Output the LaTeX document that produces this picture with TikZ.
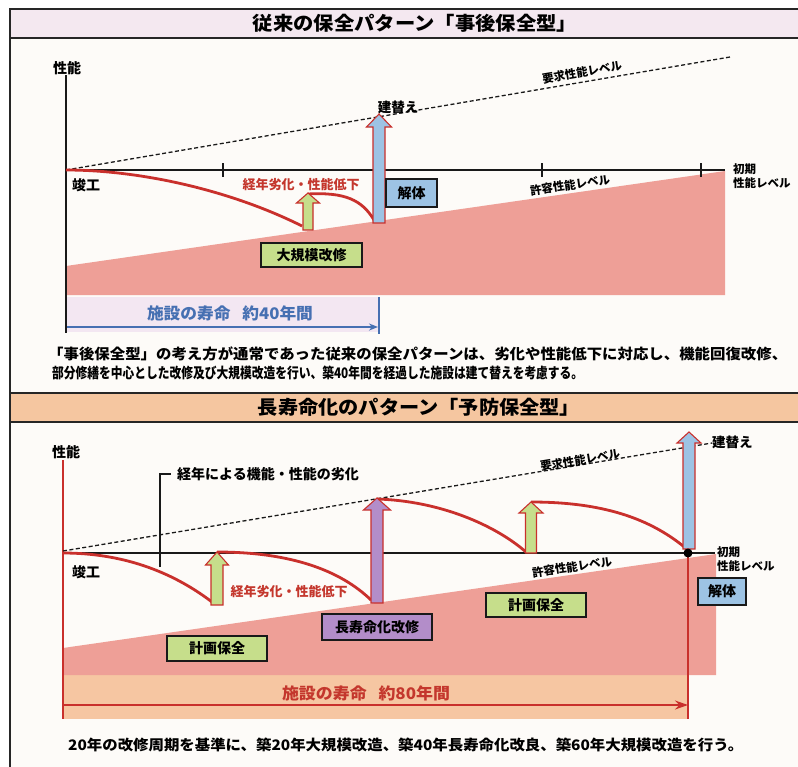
\documentclass[tikz,border=0pt]{standalone}
\usepackage{fontspec}
\usepackage{graphicx}
\setmainfont{Noto Sans CJK JP}
\usetikzlibrary{arrows.meta}
\definecolor{bodybg}{HTML}{FDFBF8}
\definecolor{headA}{HTML}{F4E8F0}
\definecolor{headB}{HTML}{F5C6A0}
\definecolor{pinkreg}{HTML}{EE9F97}
\definecolor{lavband}{HTML}{F3E7F2}
\definecolor{peachband}{HTML}{F6C6A2}
\definecolor{curvered}{HTML}{C9302C}
\definecolor{textred}{HTML}{C4372D}
\definecolor{textblue}{HTML}{4670B2}
\definecolor{boxgreen}{HTML}{C6DE8B}
\definecolor{boxblue}{HTML}{9DC3E4}
\definecolor{boxpurple}{HTML}{B38DC9}
\newcommand\fsz[1]{\fontsize{#1}{#1}\selectfont}
\newcommand\fatup[8]{% cx, ybot, ytip, ybase, halfshaft, halfhead, fill
  \draw[arrowline, fill=#7] (#1-#5,#2) -- (#1-#5,#4) -- (#1-#6,#4) -- (#1,#3) -- (#1+#6,#4) -- (#1+#5,#4) -- (#1+#5,#2) -- cycle;}
\tikzset{
  frameline/.style={line width=2pt, draw=black!85},
  axisline/.style={line width=2pt, draw=black!90},
  redcurve/.style={draw=curvered, line width=2.8pt},
  arrowline/.style={draw=curvered, line width=1.1pt, line join=miter},
  reqline/.style={line width=1.3pt, dash pattern=on 4pt off 2.5pt, draw=black!90},
  titletext/.style={inner sep=0pt, font=\bfseries\fsz{19}},
  para/.style={inner sep=0pt, font=\bfseries\fsz{14.5}},
  lbl/.style={inner sep=0pt, font=\bfseries\fsz{14}},
  smalllbl/.style={inner sep=0pt, font=\bfseries\fsz{11.5}},
  redlbl/.style={inner sep=0pt, font=\bfseries\fsz{13}, text=textred},
  actbox/.style={draw=black!90, line width=2pt, inner sep=0pt, font=\bfseries\fsz{14}},
  lifetext/.style={inner sep=0pt, font=\bfseries\fsz{16}},
}
\begin{document}
\begin{tikzpicture}[x=1pt,y=-1pt]
\useasboundingbox (0,0) rectangle (798,766);
\clip (0,0) rectangle (798,766);
% ---------- frame and headers ----------
\fill[white] (0,0) rectangle (798,766);
\fill[bodybg] (10,38) rectangle (805,393);
\fill[bodybg] (10,422) rectangle (805,770);
\fill[headA] (10,9) rectangle (805,38);
\fill[headB] (10,393) rectangle (805,422);
\draw[frameline] (805,9) -- (10,9) -- (10,770);
\draw[frameline] (10,38) -- (805,38);
\draw[frameline] (10,393) -- (805,393);
\draw[frameline] (10,422) -- (805,422);
\node[titletext] (title1) at (415,23) {\resizebox{324pt}{\height}{従来の保全パターン「事後保全型」}};
\node[titletext] (title2) at (419,407) {\resizebox{322pt}{\height}{長寿命化のパターン「予防保全型」}};

% ================= TOP PANEL =================
\fill[pinkreg] (66,266) -- (725,171) -- (725,295) -- (66,295) -- cycle;
\fill[lavband] (66,297) rectangle (379,332);
\node[lifetext, text=textblue] (life1) at (230,313) {\resizebox{166pt}{\height}{施設の寿命\hspace{0.7em}約40年間}};
\draw[line width=1.5pt, draw=textblue, -{Stealth[length=9pt,width=7pt]}] (66,327) -- (378,327);
\draw[line width=1.5pt, draw=textblue] (379,297) -- (379,334);
% axes
\draw[axisline] (66,75) -- (66,333);
\draw[axisline] (66,170) -- (725,170);
\foreach \tx in {223,542,701} \draw[axisline] (\tx,163) -- (\tx,177);
\draw[reqline] (66,170) -- (730,57);
\node[lbl] (perf1) at (67,68) {性能};
\node[lbl] (comp1) at (86,185) {竣工};
\node[smalllbl, anchor=west, align=left] (init1) at (733,176) {初期\\[2pt]性能レベル};
\node[smalllbl, rotate=9.6] (req1) at (582,72) {要求性能レベル};
\node[smalllbl, rotate=8.1] (allow1) at (570,185) {許容性能レベル};
% curves
\draw[redcurve] (66,170) .. controls (140,170) and (230,190) .. (302,226);
\draw[redcurve] (308,194) .. controls (345,192) and (362,200) .. (374,220);
\node[redlbl] (deg1) at (301,185) {経年劣化・性能低下};
% arrows
\fatup{308}{230}{193}{203}{5}{11.5}{boxgreen}{}
\fatup{379}{223}{114}{127}{6}{12.5}{boxblue}{}
\node[lbl, font=\bfseries\fsz{13.5}] (rebuild1) at (398,107) {建替え};
% boxes
\node[actbox, fill=boxblue, minimum width=51pt, minimum height=28pt] (dem1) at (411.5,193) {解体};
\node[actbox, fill=boxgreen, minimum width=101pt, minimum height=24pt] (major1) at (311.5,255) {大規模改修};
% paragraph
\node[para, anchor=west] (para1) at (48,354) {\resizebox{739pt}{\height}{「事後保全型」の考え方が通常であった従来の保全パターンは、劣化や性能低下に対応し、機能回復改修、}};
\node[para, anchor=west] (para2) at (52,373) {\resizebox{531pt}{\height}{部分修繕を中心とした改修及び大規模改造を行い、築40年間を経過した施設は建て替えを考慮する。}};

% ================= BOTTOM PANEL =================
\fill[peachband] (63,675) rectangle (688,719);
\fill[pinkreg] (63,648) -- (716,554) -- (716,675) -- (63,675) -- cycle;
\node[lifetext, text=textred] (life2) at (366,693) {\resizebox{168pt}{\height}{施設の寿命\hspace{0.7em}約80年間}};
\draw[line width=1.8pt, draw=curvered, -{Stealth[length=13pt,width=9pt]}] (63,705) -- (688,705);
\draw[line width=1.8pt, draw=curvered] (688,553) -- (688,719);
\draw[line width=1.8pt, draw=curvered] (63,460) -- (63,719);
\draw[line width=1.5pt, draw=black!90] (63,553) -- (715,553);
\draw[reqline] (63,551) -- (712,443);
\node[lbl] (perf2) at (66,452) {性能};
\node[lbl] (comp2) at (86,572) {竣工};
\node[smalllbl, anchor=west, align=left] (init2) at (717,559) {初期\\[2pt]性能レベル};
\node[smalllbl, rotate=9.4] (req2) at (580,460) {要求性能レベル};
\node[smalllbl, rotate=8.1] (allow2) at (572,567) {許容性能レベル};
\draw[line width=1.3pt, draw=black!90] (160,567) -- (160,474) -- (171,474);
\node[lbl, font=\bfseries\fsz{14}, anchor=west] (agedeg) at (177,474) {経年による機能・性能の劣化};
% curves
\draw[redcurve] (63,553) .. controls (120,553) and (170,570) .. (212,602);
\draw[redcurve] (217,552) .. controls (290,552) and (340,570) .. (371,600);
\draw[redcurve] (377,499) .. controls (440,501) and (495,525) .. (526,552);
\draw[redcurve] (531,502) .. controls (610,502) and (655,522) .. (688,550);
\node[redlbl] (deg2) at (289,592) {経年劣化・性能低下};
% arrows
\fatup{217}{605}{552}{565}{6}{11.5}{boxgreen}{}
\fatup{377}{603}{498}{510}{6}{13.5}{boxpurple}{}
\fatup{531}{553}{502}{513}{5.5}{12}{boxgreen}{}
\fatup{689}{549}{432}{443}{6}{12}{boxblue}{}
\fill[black] (688,553) circle (4.5);
\node[lbl, font=\bfseries\fsz{13.5}, anchor=west] (rebuild2) at (712,442) {建替え};
% boxes
\node[actbox, fill=boxblue, minimum width=48pt, minimum height=27pt] (dem2) at (722,591.5) {解体};
\node[actbox, fill=boxgreen, minimum width=100pt, minimum height=25pt] (plan1) at (217,648.5) {計画保全};
\node[actbox, fill=boxpurple, minimum width=110pt, minimum height=26pt] (longlife) at (377,627) {長寿命化改修};
\node[actbox, fill=boxgreen, minimum width=100pt, minimum height=24pt] (plan2) at (536,605) {計画保全};
\node[para, anchor=west] (para3) at (68,745) {\resizebox{675pt}{\height}{20年の改修周期を基準に、築20年大規模改造、築40年長寿命化改良、築60年大規模改造を行う。}};
\end{tikzpicture}
\end{document}
